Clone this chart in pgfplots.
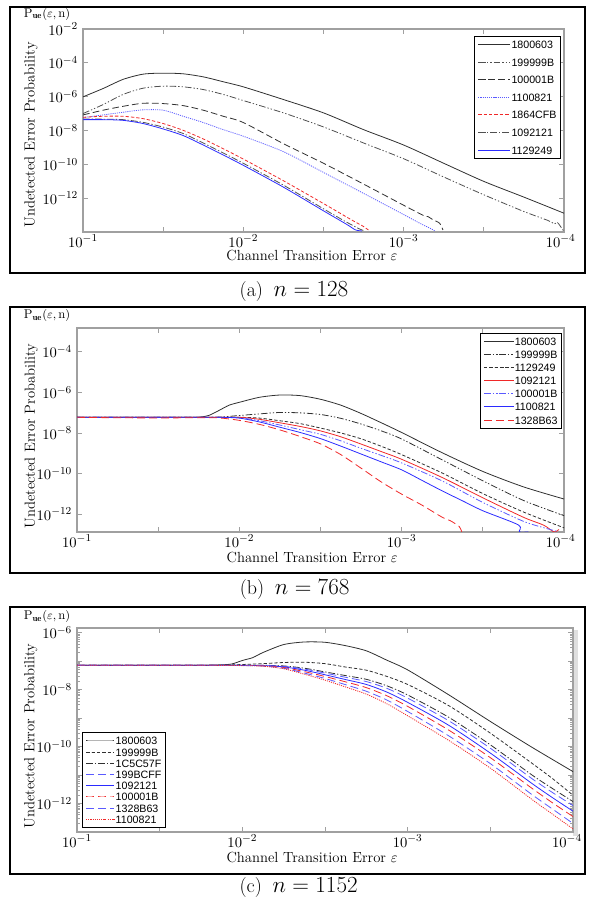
\documentclass[border=0pt]{standalone}
\usepackage{fontspec}
\usepackage{pgfplots}
\pgfplotsset{compat=1.18}
\newfontfamily\legendfont{Liberation Sans}
\definecolor{lblack}{HTML}{303030}
\definecolor{lgray}{HTML}{505050}
\definecolor{lblue}{HTML}{2B2BFF}
\definecolor{lblue2}{HTML}{5A5AFF}
\definecolor{lred}{HTML}{F02828}
\definecolor{axgray}{HTML}{A0A0A0}
\tikzset{
 pl/.style={line width=0.6pt, smooth, tension=0.45},
 dashdotdot/.style={dash pattern=on 5pt off 1.5pt on 1pt off 1.5pt on 1pt off 1.5pt},
 dashdotA/.style={dash pattern=on 5pt off 1.5pt on 1pt off 1.5pt},
 longdash/.style={dash pattern=on 5pt off 2.5pt},
 shortdash/.style={dash pattern=on 2.5pt off 1.5pt},
 longerdash/.style={dash pattern=on 6pt off 3pt},
 dotline/.style={dash pattern=on 0.8pt off 0.8pt},
}
\begin{document}
\begin{tikzpicture}
\fill[gray!25] (430pt,52pt) rectangle (433.5pt,206.25pt);
%================ (a) n = 128
\begin{axis}[at={(62.25pt,504.75pt)}, anchor=south west,
 scale only axis, width=360.75pt, height=152.25pt,
 xmode=log, ymode=log, x dir=reverse, xmin=1e-4, xmax=1e-1,
 xtick={1e-1,3.1623e-2,1e-2,3.1623e-3,1e-3,3.1623e-4,1e-4},
 xticklabels={$10^{-1}$,,$10^{-2}$,,$10^{-3}$,,$10^{-4}\kern5pt$},
 ymin=1e-14, ymax=1e-2, ytick={1e-12,1e-10,1e-8,1e-6,1e-4,1e-2},
 axis line style={draw=axgray, line width=1pt},
 tick style={draw=axgray, line width=0.6pt},
 major tick length=4pt, minor tick length=2pt,
 tick label style={font=\fontsize{11}{13}\selectfont},
 xticklabel style={inner sep=1pt, yshift=-1pt},
 yticklabel style={inner sep=1pt, xshift=-2.5pt},
 xlabel={Channel Transition Error $\varepsilon$},
 ylabel={Undetected Error Probability},
 xlabel style={font=\fontsize{11}{13}\selectfont, at={(axis description cs:0.476,-0.0887)}, anchor=north, inner sep=0pt},
 ylabel style={font=\fontsize{11}{13}\selectfont, at={(axis description cs:-0.108,0.478)}, anchor=center},
 legend cell align=left,
 legend style={draw=black, line width=0.6pt, fill=white,
    font=\legendfont\fontsize{8}{9}\selectfont, inner sep=2.5pt,
    nodes={inner sep=0.6pt, text height=6pt, text depth=0pt},
    at={(axis description cs:0.994,0.966)}, anchor=north east, row sep=6pt},
 legend image post style={xscale=1.4, line width=0.75pt},
]
\addplot[pl, lblack] coordinates {(0.1,9.77e-7)(0.07499,3.02e-6)(0.05623,1.05e-5)(0.04217,2.14e-5)(0.03162,2.45e-5)(0.02371,2.24e-5)(0.01778,1.48e-5)(0.01334,7.59e-6)(0.01,3.80e-6)(0.005623,6.76e-7)(0.003162,1.10e-7)(0.001778,1.12e-8)(0.001,1.38e-9)(5.623e-4,1.15e-10)(3.162e-4,9.77e-12)(1.778e-4,1.15e-12)(1e-4,1.29e-13)};
\addlegendentry{1800603}
\addplot[pl, lgray, dashdotdot] coordinates {(0.1,1.00e-7)(0.07499,3.39e-7)(0.05623,1.35e-6)(0.04217,3.16e-6)(0.03162,4.17e-6)(0.02371,3.80e-6)(0.01778,2.63e-6)(0.01334,1.35e-6)(0.01,5.89e-7)(0.005623,1.10e-7)(0.003162,1.62e-8)(0.001778,1.82e-9)(0.001,2.14e-10)(5.623e-4,1.78e-11)(3.162e-4,1.58e-12)(1.778e-4,1.62e-13)(1.259e-4,4.79e-14)(1.146e-4,3.02e-14)(1.104e-4,3.80e-14)(1.057e-4,2.29e-14)(1.0e-4,1.05e-14)};
\addlegendentry{199999B}
\addplot[pl, lblack, longdash] coordinates {(0.1,8.32e-8)(0.07499,1.58e-7)(0.05623,2.69e-7)(0.04217,4.07e-7)(0.03162,3.89e-7)(0.02371,2.95e-7)(0.01778,1.58e-7)(0.01334,6.92e-8)(0.01,2.95e-8)(0.005623,1.66e-9)(0.003162,1.15e-10)(0.001778,6.76e-12)(0.001,3.80e-13)(7.499e-4,9.33e-14)(7.047e-4,8.13e-14)(6.561e-4,5.25e-14)(5.970e-4,3.31e-14)(5.689e-4,1.32e-14)};
\addlegendentry{100001B}
\addplot[pl, lblue2, dotline] coordinates {(0.1,5.75e-8)(0.07499,8.32e-8)(0.05623,1.20e-7)(0.04217,1.66e-7)(0.03162,1.58e-7)(0.02371,6.92e-8)(0.01778,2.95e-8)(0.01334,1.12e-8)(0.01,4.57e-9)(0.005623,5.62e-10)(0.003162,3.31e-11)(0.001778,1.91e-12)(0.001,1.07e-13)(7.943e-4,3.31e-14)(6.918e-4,1.74e-14)(6.412e-4,1.20e-14)};
\addlegendentry{1100821}
\addplot[pl, lred, shortdash] coordinates {(0.1,6.03e-8)(0.07499,6.92e-8)(0.05623,6.92e-8)(0.04217,5.01e-8)(0.03162,2.57e-8)(0.02371,1.02e-8)(0.01778,3.16e-9)(0.01334,8.32e-10)(0.01,2.04e-10)(0.005623,1.07e-11)(0.003162,4.79e-13)(0.002371,9.77e-14)(0.001995,3.80e-14)(0.001820,2.40e-14)(0.001660,1.32e-14)};
\addlegendentry{1864CFB}
\addplot[pl, lgray, dashdotA] coordinates {(0.1,4.68e-8)(0.07499,4.68e-8)(0.05623,4.37e-8)(0.04217,3.02e-8)(0.03162,1.58e-8)(0.02371,6.61e-9)(0.01778,1.82e-9)(0.01334,4.68e-10)(0.01,1.15e-10)(0.005623,5.89e-12)(0.003162,2.34e-13)(0.002371,4.79e-14)(0.002089,2.51e-14)(0.001905,1.58e-14)(0.001738,1.12e-14)};
\addlegendentry{1092121}
\addplot[pl, lblue] coordinates {(0.1,4.37e-8)(0.07499,4.37e-8)(0.05623,3.98e-8)(0.04217,2.57e-8)(0.03162,1.23e-8)(0.02371,5.01e-9)(0.01778,1.38e-9)(0.01334,3.55e-10)(0.01,8.71e-11)(0.005623,4.47e-12)(0.003162,1.78e-13)(0.002371,3.63e-14)(0.002188,2.29e-14)(0.001995,1.32e-14)(0.001820,1.15e-14)};
\addlegendentry{1129249}
\end{axis}
%================ (b) n = 768
\begin{axis}[at={(57.75pt,279.75pt)}, anchor=south west,
 scale only axis, width=365.25pt, height=153pt,
 xmode=log, ymode=log, x dir=reverse, xmin=1e-4, xmax=1e-1,
 xtick={1e-1,3.1623e-2,1e-2,3.1623e-3,1e-3,3.1623e-4,1e-4},
 xticklabels={$10^{-1}$,,$10^{-2}$,,$10^{-3}$,,$10^{-4}\kern5pt$},
 ymin=1.3e-13, ymax=1.5e-3, ytick={1e-12,1e-10,1e-8,1e-6,1e-4},
 axis line style={draw=axgray, line width=1pt},
 tick style={draw=axgray, line width=0.6pt},
 major tick length=4pt, minor tick length=2pt,
 tick label style={font=\fontsize{11}{13}\selectfont},
 xticklabel style={inner sep=1pt, yshift=-1pt},
 yticklabel style={inner sep=1pt, xshift=-2.5pt},
 xlabel={Channel Transition Error $\varepsilon$},
 ylabel={Undetected Error Probability},
 xlabel style={font=\fontsize{11}{13}\selectfont, at={(axis description cs:0.483,-0.098)}, anchor=north, inner sep=0pt},
 ylabel style={font=\fontsize{11}{13}\selectfont, at={(axis description cs:-0.094,0.47)}, anchor=center},
 legend cell align=left,
 legend style={draw=black, line width=0.6pt, fill=white,
    font=\legendfont\fontsize{8}{9}\selectfont, inner sep=2.5pt,
    nodes={inner sep=0.6pt, text height=6pt, text depth=0pt},
    at={(axis description cs:0.996,0.975)}, anchor=north east, row sep=2.6pt},
 legend image post style={xscale=1.3, line width=0.75pt},
]
\addplot[pl, lblack] coordinates {(0.1,5.9e-8)(0.05623,5.9e-8)(0.03162,5.9e-8)(0.02371,5.9e-8)(0.01778,6.03e-8)(0.01545,7.24e-8)(0.01334,1.29e-7)(0.01155,2.34e-7)(0.01,3.24e-7)(0.007499,5.75e-7)(0.005623,7.41e-7)(0.004217,6.92e-7)(0.003162,4.57e-7)(0.002371,2.34e-7)(0.001778,9.12e-8)(0.001334,3.16e-8)(0.001,1.05e-8)(5.623e-4,1.05e-9)(3.162e-4,1.26e-10)(1.778e-4,2.19e-11)(1e-4,5.50e-12)};
\addlegendentry{1800603}
\addplot[pl, lblack, dashdotdot] coordinates {(0.1,5.9e-8)(0.05623,5.9e-8)(0.03162,5.9e-8)(0.01778,5.9e-8)(0.01334,6.03e-8)(0.01,7.24e-8)(0.007499,8.71e-8)(0.005623,1.02e-7)(0.004217,9.77e-8)(0.003162,8.13e-8)(0.002371,5.25e-8)(0.001778,2.75e-8)(0.001334,1.26e-8)(0.001,5.01e-9)(5.623e-4,4.68e-10)(3.162e-4,4.37e-11)(1.778e-4,4.68e-12)(1e-4,8.32e-13)};
\addlegendentry{199999B}
\addplot[pl, lblack, shortdash] coordinates {(0.1,5.9e-8)(0.05623,5.9e-8)(0.03162,5.9e-8)(0.01778,5.9e-8)(0.01,5.9e-8)(0.007499,5.37e-8)(0.005623,3.98e-8)(0.004217,2.88e-8)(0.003162,1.74e-8)(0.002371,1.00e-8)(0.001778,5.13e-9)(0.001334,2.19e-9)(0.001,8.51e-10)(5.623e-4,1.05e-10)(3.162e-4,1.02e-11)(1.778e-4,1.26e-12)(1e-4,2.09e-13)};
\addlegendentry{1129249}
\addplot[pl, lred] coordinates {(0.1,5.9e-8)(0.05623,5.9e-8)(0.03162,5.9e-8)(0.01778,5.9e-8)(0.01,5.9e-8)(0.007499,4.68e-8)(0.005623,3.16e-8)(0.004217,2.09e-8)(0.003162,1.26e-8)(0.002371,6.46e-9)(0.001778,2.82e-9)(0.001334,1.20e-9)(0.001,5.01e-10)(5.623e-4,6.31e-11)(3.162e-4,6.31e-12)(1.778e-4,6.92e-13)(1.334e-4,2.82e-13)(1.153e-4,1.32e-13)(1.074e-4,1.74e-13)};
\addlegendentry{1092121}
\addplot[pl, lblue2, dashdotdot] coordinates {(0.1,5.9e-8)(0.05623,5.9e-8)(0.03162,5.9e-8)(0.01778,5.9e-8)(0.01334,5.9e-8)(0.01,5.62e-8)(0.007499,3.98e-8)(0.005623,2.45e-8)(0.004217,1.45e-8)(0.003162,8.51e-9)(0.002371,4.07e-9)(0.001778,1.74e-9)(0.001334,7.76e-10)(0.001,3.31e-10)(5.623e-4,4.27e-11)(3.162e-4,3.72e-12)(1.778e-4,4.37e-13)(1.259e-4,1.86e-13)(1.096e-4,1.38e-13)};
\addlegendentry{100001B}
\addplot[pl, lblue] coordinates {(0.1,5.9e-8)(0.05623,5.9e-8)(0.03162,5.9e-8)(0.01778,5.9e-8)(0.01334,5.9e-8)(0.01,5.37e-8)(0.007499,3.47e-8)(0.005623,1.91e-8)(0.004217,1.05e-8)(0.003162,5.25e-9)(0.002371,2.24e-9)(0.001778,9.12e-10)(0.001334,3.72e-10)(0.001,1.51e-10)(7.499e-4,4.57e-11)(5.623e-4,1.38e-11)(4.217e-4,4.47e-12)(3.162e-4,1.45e-12)(1.905e-4,2.88e-13)(1.884e-4,1.32e-13)(1.66e-4,1.32e-13)};
\addlegendentry{1100821}
\addplot[pl, lred, longerdash] coordinates {(0.1,5.9e-8)(0.05623,5.6e-8)(0.03162,5.5e-8)(0.01778,5.6e-8)(0.01334,5.5e-8)(0.01,4.17e-8)(0.007499,2.63e-8)(0.005623,1.41e-8)(0.004217,6.61e-9)(0.003162,2.88e-9)(0.002371,8.51e-10)(0.001778,1.82e-10)(0.001334,3.80e-11)(0.001,9.55e-12)(7.499e-4,2.75e-12)(5.623e-4,6.92e-13)(5.012e-4,4.68e-13)(4.416e-4,2.40e-13)(4.266e-4,1.32e-13)};
\addlegendentry{1328B63}
\end{axis}
%================ (c) n = 1152
\begin{axis}[at={(57.75pt,54.75pt)}, anchor=south west,
 scale only axis, width=372pt, height=153pt,
 xmode=log, ymode=log, x dir=reverse, xmin=1e-4, xmax=1e-1,
 xtick={1e-1,3.1623e-2,1e-2,3.1623e-3,1e-3,3.1623e-4,1e-4},
 xticklabels={$10^{-1}$,,$10^{-2}$,,$10^{-3}$,,$10^{-4}\kern9pt$},
 ymin=1e-13, ymax=1.45e-6,
 ytick={1e-13,1e-12,1e-11,1e-10,1e-9,1e-8,1e-7,1e-6},
 yticklabels={,$10^{-12}$,,$10^{-10}$,,$10^{-8}$,,$10^{-6}$},
 minor ytick={2e-13,3e-13,4e-13,5e-13,6e-13,7e-13,8e-13,9e-13,
  2e-12,3e-12,4e-12,5e-12,6e-12,7e-12,8e-12,9e-12,
  2e-11,3e-11,4e-11,5e-11,6e-11,7e-11,8e-11,9e-11,
  2e-10,3e-10,4e-10,5e-10,6e-10,7e-10,8e-10,9e-10,
  2e-9,3e-9,4e-9,5e-9,6e-9,7e-9,8e-9,9e-9,
  2e-8,3e-8,4e-8,5e-8,6e-8,7e-8,8e-8,9e-8,
  2e-7,3e-7,4e-7,5e-7,6e-7,7e-7,8e-7,9e-7},
 axis line style={draw=axgray, line width=1pt},
 tick style={draw=axgray, line width=0.6pt},
 major tick length=4pt, minor tick length=2pt,
 tick label style={font=\fontsize{11}{13}\selectfont},
 xticklabel style={inner sep=1pt, yshift=-1pt},
 yticklabel style={inner sep=1pt, xshift=-2.5pt},
 xlabel={Channel Transition Error $\varepsilon$},
 ylabel={Undetected Error Probability},
 xlabel style={font=\fontsize{11}{13}\selectfont, at={(axis description cs:0.474,-0.098)}, anchor=north, inner sep=0pt},
 ylabel style={font=\fontsize{11}{13}\selectfont, at={(axis description cs:-0.093,0.47)}, anchor=center},
 legend cell align=left,
 legend style={draw=black, line width=0.6pt, fill=white,
    font=\legendfont\fontsize{8}{9}\selectfont, inner sep=2.5pt,
    nodes={inner sep=0.6pt, text height=6pt, text depth=0pt},
    at={(axis description cs:0.01,0.02)}, anchor=south west, row sep=1.2pt},
 legend image post style={xscale=1.24, line width=0.75pt},
]
\addplot[pl, lblack] coordinates {(0.1,7.14e-8)(0.05623,7.14e-8)(0.03162,7.14e-8)(0.01778,7.14e-8)(0.01334,7.41e-8)(0.01155,7.94e-8)(0.01,1.05e-7)(0.00866,1.32e-7)(0.007499,2.00e-7)(0.005623,3.80e-7)(0.004217,4.68e-7)(0.003162,4.57e-7)(0.002371,3.47e-7)(0.001778,2.29e-7)(0.001334,1.07e-7)(0.001,4.90e-8)(5.623e-4,6.46e-9)(3.162e-4,7.59e-10)(1.778e-4,9.55e-11)(1e-4,1.32e-11)};
\addlegendentry{1800603}
\addplot[pl, lblack, shortdash] coordinates {(0.1,7.14e-8)(0.05623,7.14e-8)(0.03162,7.14e-8)(0.01778,7.14e-8)(0.01334,7.14e-8)(0.01,7.59e-8)(0.007499,8.13e-8)(0.005623,8.91e-8)(0.004217,9.12e-8)(0.003162,8.13e-8)(0.002371,6.17e-8)(0.001778,4.79e-8)(0.001334,2.88e-8)(0.001,1.51e-8)(5.623e-4,2.69e-9)(3.162e-4,2.95e-10)(1.778e-4,2.63e-11)(1.334e-4,7.59e-12)(1e-4,1.95e-12)};
\addlegendentry{199999B}
\addplot[pl, lblack, dashdotA] coordinates {(0.1,7.14e-8)(0.05623,7.14e-8)(0.03162,7.14e-8)(0.01778,7.14e-8)(0.01,7.14e-8)(0.007499,7.14e-8)(0.005623,6.76e-8)(0.004217,5.62e-8)(0.003162,4.17e-8)(0.002371,3.09e-8)(0.001778,2.29e-8)(0.001334,1.35e-8)(0.001,6.46e-9)(5.623e-4,1.05e-9)(3.162e-4,1.15e-10)(1.778e-4,1.02e-11)(1.334e-4,3.39e-12)(1e-4,1.17e-12)};
\addlegendentry{1C5C57F}
\addplot[pl, lblue2, longerdash] coordinates {(0.1,7.14e-8)(0.05623,7.14e-8)(0.03162,7.14e-8)(0.01778,7.14e-8)(0.01,7.11e-8)(0.007499,7.06e-8)(0.005623,6.53e-8)(0.004217,5.25e-8)(0.003162,3.80e-8)(0.002371,2.69e-8)(0.001778,1.91e-8)(0.001334,1.10e-8)(0.001,5.01e-9)(5.623e-4,7.94e-10)(3.162e-4,8.71e-11)(1.778e-4,7.59e-12)(1.334e-4,2.45e-12)(1e-4,8.51e-13)};
\addlegendentry{199BCFF}
\addplot[pl, lblue] coordinates {(0.1,7.14e-8)(0.05623,7.14e-8)(0.03162,7.14e-8)(0.01778,7.14e-8)(0.01,7.06e-8)(0.007499,6.95e-8)(0.005623,6.24e-8)(0.004217,4.79e-8)(0.003162,3.31e-8)(0.002371,2.24e-8)(0.001778,1.51e-8)(0.001334,8.13e-9)(0.001,3.55e-9)(5.623e-4,5.50e-10)(3.162e-4,5.89e-11)(1.778e-4,5.13e-12)(1.334e-4,1.62e-12)(1e-4,5.37e-13)};
\addlegendentry{1092121}
\addplot[pl, lred, longerdash] coordinates {(0.1,7.14e-8)(0.05623,7.14e-8)(0.03162,7.14e-8)(0.01778,7.14e-8)(0.01,7.01e-8)(0.007499,6.84e-8)(0.005623,5.96e-8)(0.004217,4.27e-8)(0.003162,2.88e-8)(0.002371,1.86e-8)(0.001778,1.17e-8)(0.001334,6.03e-9)(0.001,2.57e-9)(5.623e-4,3.72e-10)(3.162e-4,4.07e-11)(1.778e-4,3.47e-12)(1.334e-4,1.07e-12)(1e-4,3.47e-13)};
\addlegendentry{100001B}
\addplot[pl, lblue2, longerdash] coordinates {(0.1,7.14e-8)(0.05623,7.14e-8)(0.03162,7.14e-8)(0.01778,7.14e-8)(0.01,6.97e-8)(0.007499,6.71e-8)(0.005623,5.62e-8)(0.004217,3.80e-8)(0.003162,2.45e-8)(0.002371,1.48e-8)(0.001778,8.71e-9)(0.001334,4.27e-9)(0.001,1.70e-9)(5.623e-4,2.34e-10)(3.162e-4,2.51e-11)(1.778e-4,2.09e-12)(1.334e-4,6.46e-13)(1e-4,2.00e-13)};
\addlegendentry{1328B63}
\addplot[pl, lred, dotline] coordinates {(0.1,7.14e-8)(0.05623,7.14e-8)(0.03162,7.14e-8)(0.01778,7.14e-8)(0.01,6.92e-8)(0.007499,6.61e-8)(0.005623,5.37e-8)(0.004217,3.47e-8)(0.003162,2.14e-8)(0.002371,1.23e-8)(0.001778,6.92e-9)(0.001334,3.16e-9)(0.001,1.20e-9)(5.623e-4,1.62e-10)(3.162e-4,1.74e-11)(1.778e-4,1.41e-12)(1.334e-4,4.27e-13)(1e-4,1.29e-13)};
\addlegendentry{1100821}
\end{axis}
%================ frames, captions, labels
\draw[line width=1.3pt] (7.5pt,474pt) rectangle (438.75pt,673.5pt);
\draw[line width=1.3pt] (7.5pt,249pt) rectangle (438.75pt,448.5pt);
\draw[line width=1.3pt] (7.5pt,23.25pt) rectangle (438.75pt,223.5pt);
\node[inner sep=0pt] at (35.25pt,667.9pt) {\fontsize{9.5}{11}\selectfont $\mathrm{P}_{\mathbf{ue}}(\varepsilon,\mathrm{n})$};
\node[inner sep=0pt] at (35.25pt,441.75pt) {\fontsize{9.5}{11}\selectfont $\mathrm{P}_{\mathbf{ue}}(\varepsilon,\mathrm{n})$};
\node[inner sep=0pt] at (35.25pt,216pt) {\fontsize{9.5}{11}\selectfont $\mathrm{P}_{\mathbf{ue}}(\varepsilon,\mathrm{n})$};
\node at (220.5pt,459.75pt) {\fontsize{15}{17}\selectfont (a)\hspace{8pt}\fontsize{19}{22}\selectfont $n=128$};
\node at (221pt,236.25pt) {\fontsize{15}{17}\selectfont (b)\hspace{8pt}\fontsize{19}{22}\selectfont $n=768$};
\node at (224pt,12.75pt) {\fontsize{15}{17}\selectfont (c)\hspace{8pt}\fontsize{19}{22}\selectfont $n=1152$};
\pgfresetboundingbox
\useasboundingbox (0,0) rectangle (441pt,678.75pt);
\end{tikzpicture}
\end{document}
